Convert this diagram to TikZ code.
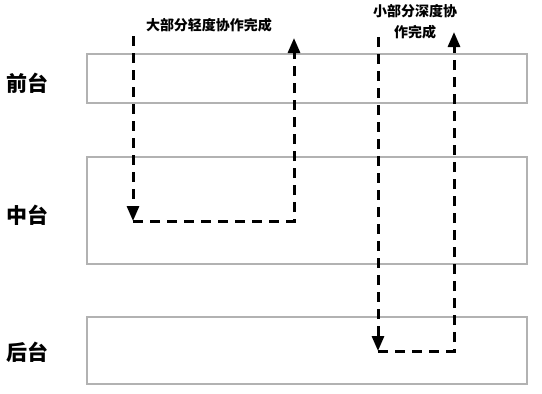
\documentclass[tikz,border=0pt]{standalone}
\usepackage{fontspec}
\setmainfont{Noto Sans CJK SC}
\usetikzlibrary{arrows.meta,positioning}

\begin{document}
\begin{tikzpicture}[
  x=1pt, y=-1pt,
  >={Triangle[length=15pt,width=12pt]},
  tier/.style={draw=black!30, line width=1.5pt, minimum width=440pt, inner sep=0pt},
  tiername/.style={font=\fontsize{21}{24}\selectfont\bfseries, anchor=center},
  flow/.style={->, line width=3pt, dash pattern=on 10pt off 7pt},
  note/.style={font=\fontsize{14}{21}\selectfont\bfseries, align=center}
]
\useasboundingbox (0,0) rectangle (542,394);
% three layers
\node[tier, minimum height=49pt] (qian) at (307,78.5) {};
\node[tier, minimum height=107pt] (zhong) at (307,210.5) {};
\node[tier, minimum height=67pt] (hou) at (307,350.5) {};
\node[tiername] (qianlbl) at (27,83) {前台};
\node[tiername] (zhonglbl) at (27,215) {中台};
\node[tiername] (houlbl) at (27,352) {后台};
% light collaboration
\coordinate (a1) at (133,36);
\coordinate (a2) at (133,221);
\coordinate (a3) at (294,38);
\draw[flow] (a1) -- (a2);
\draw[flow] (a2) -| (a3);
\node[note] (lightnote) at (209,25) {大部分轻度协作完成};
% deep collaboration
\coordinate (b1) at (378,37);
\coordinate (b2) at (378,351);
\coordinate (b3) at (454,32);
\draw[flow] (b1) -- (b2);
\draw[flow] (b2) -| (b3);
\node[note] (deepnote) at (415,22) {小部分深度协\\作完成};
\end{tikzpicture}
\end{document}
